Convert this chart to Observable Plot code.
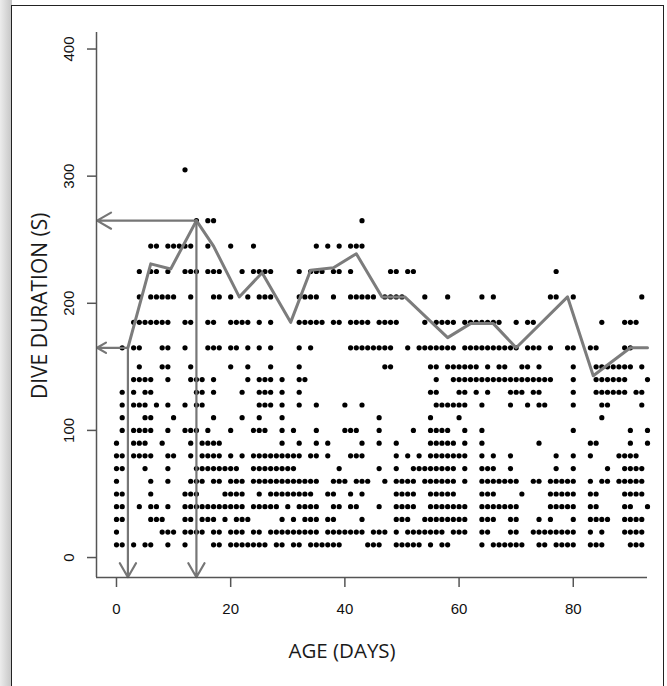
<!DOCTYPE html>
<html><head><meta charset="utf-8">
<script src="https://cdn.jsdelivr.net/npm/d3@7"></script>
<script src="https://cdn.jsdelivr.net/npm/@observablehq/plot@0.6"></script>
<style>
html,body{margin:0;padding:0;background:#fff;}
#wrap{position:relative;width:667px;height:686px;overflow:hidden;background:#fff;}
#strip{position:absolute;left:0;top:0;width:12px;height:686px;background:linear-gradient(to right,#ececec,#c4c4c4);}
#frame{position:absolute;left:11px;top:5px;width:653px;height:720px;border:1.5px solid #222;box-sizing:border-box;pointer-events:none;}
#chart{position:absolute;left:0;top:0;}
</style></head><body>
<div id="wrap"><div id="chart"></div><div id="strip"></div><div id="frame"></div></div>
<script>
// Dive duration levels (s) and the days (age) at which a dive of that duration was recorded
const levels = [10,20,30,40,50,60,70,80,90,100,110,120,130,140,150,165,185,205,225,245,265,305];
const lv10 = [0,1,3,5,6,9,12,17,18,20,21,22,23,24,25,26,28,29,31,32,34,35,36,37,38,39,44,45,46,49,50,51,52,53,55,57,58,64,66,67,68,69,70,71,74,75,77,78,79,80,83,84,85,90,91,92];
const lv20 = [0,8,9,10,12,13,14,15,17,18,20,21,22,24,25,27,28,29,30,31,32,33,34,35,37,38,39,40,41,42,43,45,46,47,49,51,52,53,54,55,56,57,59,60,61,64,65,69,70,73,74,75,76,77,78,79,80,83,85,89,90,91,92];
const lv30 = [0,1,6,7,8,12,13,15,16,17,19,21,22,23,29,31,33,34,35,37,38,43,49,50,51,54,55,56,57,58,59,60,61,64,65,66,69,70,74,76,80,83,84,85,86,89,90,91,92];
const lv40 = [0,1,4,6,7,9,12,13,14,15,16,17,18,19,20,21,22,24,25,26,27,28,30,32,33,34,35,38,39,41,42,46,49,50,51,52,55,56,57,58,59,60,61,64,65,66,67,68,69,70,76,77,78,79,80,83,84,89,90,93];
const lv50 = [0,1,6,12,13,14,19,20,21,22,25,27,28,29,30,31,32,33,34,37,38,41,43,49,50,51,52,55,56,57,58,59,64,65,66,71,76,77,78,79,80,83,84,89,90,91,92];
const lv60 = [0,6,9,13,14,15,17,18,20,21,22,24,25,26,27,28,29,30,31,32,33,34,35,38,39,40,42,43,44,47,49,50,51,52,54,55,56,57,58,59,61,64,65,66,67,68,69,70,73,74,76,77,78,79,80,83,85,86,88,89,90,91,92];
const lv70 = [0,1,5,9,14,15,16,17,18,19,20,21,24,25,26,27,28,29,30,31,39,46,49,52,53,54,55,56,57,58,59,61,64,65,66,69,77,80,86,89,90,91,92];
const lv80 = [0,1,3,4,5,6,9,10,13,15,16,17,18,20,22,24,25,26,27,28,29,30,31,32,34,35,37,41,42,43,49,51,53,55,56,57,58,59,60,61,64,66,69,77,80,83,88,89,90,91];
const lv90 = [0,3,4,5,8,13,15,16,17,18,29,32,35,37,43,46,49,55,56,57,58,59,61,64,74,83,84,90,93];
const lv100 = [1,3,4,5,6,9,12,13,14,16,20,24,25,26,29,31,35,40,41,42,46,52,55,56,57,58,61,64,80,90,93];
const lv110 = [1,5,6,10,17,22,25,29,46,55,60,85];
const lv120 = [1,3,4,5,7,9,12,14,15,25,26,27,29,32,35,40,43,56,57,58,59,60,61,64,69,72,74,75,80,85,86,92];
const lv130 = [1,3,5,6,14,15,17,22,25,26,27,29,32,55,56,60,61,63,65,69,70,71,73,74,80,84,85,86,87,88,89,91,92];
const lv140 = [3,4,5,6,9,13,14,15,17,23,25,26,27,29,32,33,56,59,60,61,62,63,64,65,66,67,68,69,70,71,72,73,74,75,76,80,84,85,86,87,88,89,93];
const lv150 = [4,8,9,13,20,23,27,32,47,48,55,56,58,59,60,61,62,63,65,67,68,71,72,74,80,84,85,86,87,88,89,90,92];
const lv165 = [1,3,4,8,9,12,16,17,18,20,21,23,25,27,32,34,41,42,43,44,45,46,47,48,51,53,54,55,56,57,58,59,61,62,63,64,65,66,67,68,69,70,72,73,74,76,79,80,83,84,89,90];
const lv185 = [3,4,5,6,7,8,9,12,13,16,17,20,21,22,23,25,27,32,33,34,35,36,38,39,41,42,43,44,46,47,48,49,54,56,57,58,59,61,62,63,64,65,66,67,70,72,73,85,89,90,91];
const lv205 = [4,6,7,8,9,10,13,17,18,20,23,25,26,27,32,33,34,35,38,41,42,43,44,45,47,48,49,50,54,58,64,66,76,77,80,92];
const lv225 = [4,6,7,9,12,13,14,16,17,18,22,24,25,26,27,32,34,35,36,38,39,41,48,49,51,52,77];
const lv245 = [6,7,9,10,11,12,13,16,20,24,35,37,39,41,42,43];
const lv265 = [14,16,17,43];
const lv305 = [12];
const dayLists = [lv10,lv20,lv30,lv40,lv50,lv60,lv70,lv80,lv90,lv100,lv110,lv120,lv130,lv140,lv150,lv165,lv185,lv205,lv225,lv245,lv265,lv305];

// Maximum dive duration line
const lineDay = [2,6,9.5,14,17,21.5,25.5,30.5,34,38,42,46.5,50.5,58,62,66,70,79,83.5,90,93];
const lineMax = [165,231,227,265,245,205,224,185,226,228,239,205,205,173,184,184,165,205,143,165,165];

// Annotation arrows
const arrowX1 = [2, 2, 14, 14];
const arrowY1 = [165, 165, 265, 265];
const arrowX2 = [-3.4, 2, -3.4, 14];
const arrowY2 = [165, -15.5, 265, -15.5];

// Axes
const xTicks = [0,20,40,60,80];
const yTicks = [0,100,200,300,400];
const xMin = -3.5, xMax = 93.0;
const yMin = -15.7, yMax = 413;

const points = levels.flatMap((lv, i) => dayLists[i].map(d => ({day: d, dur: lv})));
const lineData = lineDay.map((d, i) => ({day: d, dur: lineMax[i]}));
const arrows = arrowX1.map((x, i) => ({x1: x, y1: arrowY1[i], x2: arrowX2[i], y2: arrowY2[i]}));

const axisColor = "#555";
const labelFont = "'Open Sans', sans-serif";
const plot = Plot.plot({
  width: 667, height: 686,
  marginLeft: 96, marginRight: 20, marginTop: 32, marginBottom: 109,
  x: {domain: [xMin, xMax], axis: null},
  y: {domain: [yMin, yMax], axis: null},
  style: {background: "transparent", fontFamily: "'Liberation Sans', Arial, sans-serif", color: "#222"},
  marks: [
    Plot.dot(points, {x: "day", y: "dur", r: 2.6, fill: "#000", stroke: "none"}),
    Plot.line(lineData, {x: "day", y: "dur", stroke: "#7c7c7c", strokeWidth: 3}),
    Plot.arrow(arrows, {x1: "x1", y1: "y1", x2: "x2", y2: "y2", stroke: "#767676", strokeWidth: 2.2, headLength: 11, headAngle: 60}),
    Plot.ruleX([xMin], {stroke: axisColor, strokeWidth: 1.5}),
    Plot.ruleY([yMin], {stroke: axisColor, strokeWidth: 1.5}),
    Plot.axisX({ticks: xTicks, tickSize: 10, tickFormat: () => "", label: null, stroke: axisColor, strokeWidth: 1.5}),
    Plot.axisY({ticks: yTicks, tickSize: 9, tickFormat: () => "", label: null, stroke: axisColor, strokeWidth: 1.5}),
    Plot.text(xTicks, {x: d => d, y: () => yMin, dy: 32, text: d => String(d), fontSize: 15, fill: "#111"}),
    Plot.text(yTicks, {x: () => xMin, y: d => d, dx: -27, rotate: -90, text: d => String(d), fontSize: 15, fill: "#111"}),
    Plot.text(["DIVE DURATION (S)"], {x: () => xMin, y: () => 198, dx: -56, rotate: -90, text: d => d, fontSize: 21, fontFamily: labelFont, fill: "#1a1a1a"}),
    Plot.text(["AGE (DAYS)"], {x: () => 39.5, y: () => yMin, dy: 74, text: d => d, fontSize: 20.5, fontFamily: labelFont, fill: "#1a1a1a"})
  ]
});
document.getElementById("chart").appendChild(plot);
</script>
</body></html>
